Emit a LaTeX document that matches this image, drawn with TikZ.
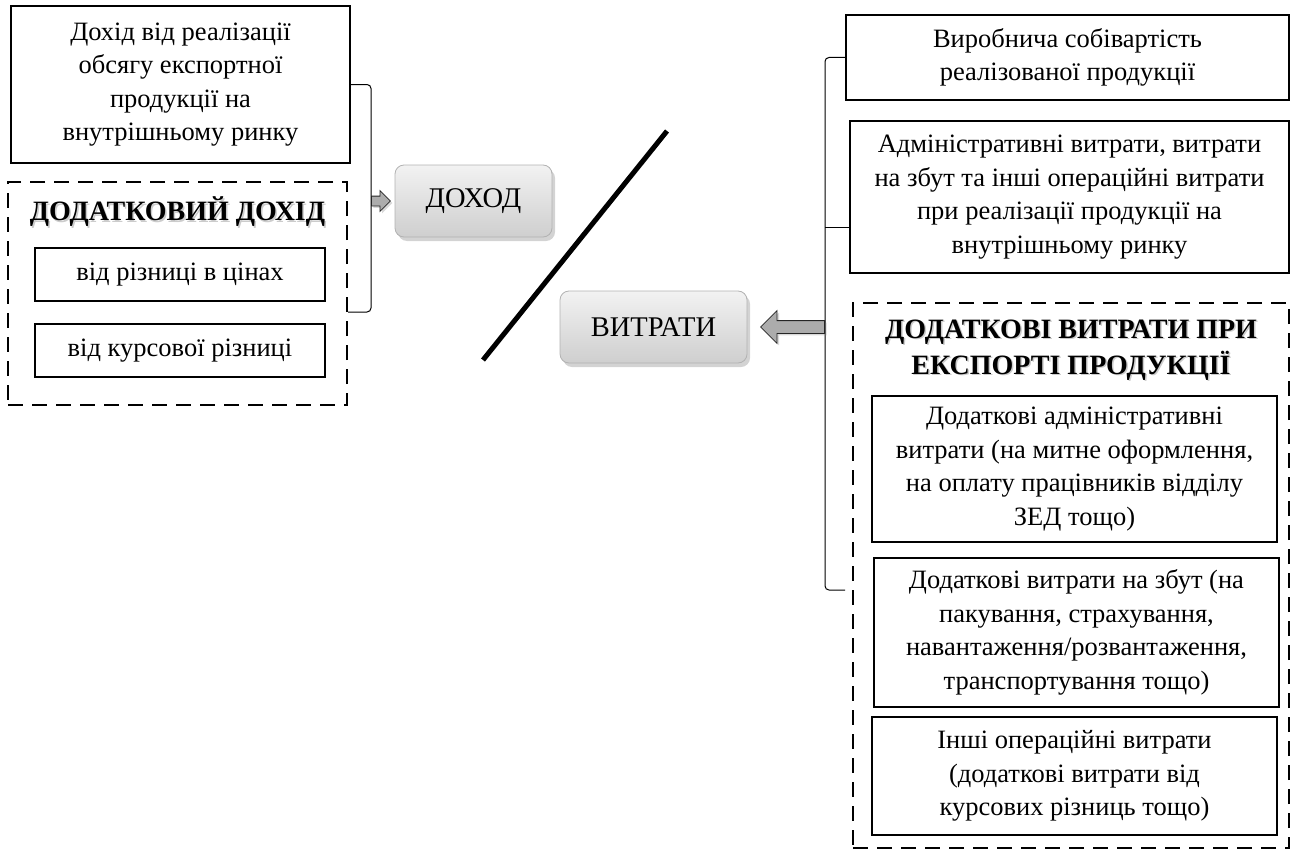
\documentclass[tikz,border=0pt]{standalone}
\usepackage{fontspec}
\setmainfont{Liberation Serif}
\usetikzlibrary{shapes.arrows,shadows}

\begin{document}
\begin{tikzpicture}[x=1pt,y=-1pt,
  every node/.style={inner sep=0pt, font=\fontsize{26.5}{33.5}\selectfont, align=center},
  plainbox/.style={draw, line width=2pt},
  dashbox/.style={draw, line width=2.2pt, dash pattern=on 15pt off 9pt},
  greybox/.style={draw=gray!60, line width=0.8pt, rounded corners=9pt, top color=gray!10, bottom color=gray!38,
    font=\fontsize{28.5}{34}\selectfont, drop shadow={opacity=0.35, shadow xshift=3pt, shadow yshift=-4pt}},
  heading/.style={font=\fontsize{28}{36}\selectfont\bfseries},
  blockarr/.style={single arrow, draw=black!85, line width=0.8pt, fill=gray!65, inner xsep=0pt,
    drop shadow={opacity=0.3, shadow xshift=2pt, shadow yshift=-2pt}},
  brk/.style={line width=1pt, rounded corners=4pt}]
\useasboundingbox (0,0) rectangle (1295,851);
% left part
\node [plainbox, minimum width=339pt, minimum height=157pt] (inc) at (180.5,84.5)
  {Дохід від реалізації\\обсягу експортної\\продукції на\\внутрішньому ринку};
\node [dashbox, minimum width=339pt, minimum height=223pt] (addinc) at (177.5,293.5) {};
\node [heading, text=gray!40] at (179,213.5) {ДОДАТКОВИЙ ДОХІД};
\node [heading] (addinct) at (177.5,212) {ДОДАТКОВИЙ ДОХІД};
\node [plainbox, minimum width=290pt, minimum height=53pt] (inc1) at (180,274.5) {від різниці в цінах};
\node [plainbox, minimum width=290pt, minimum height=53pt] (inc2) at (180,350.5) {від курсової різниці};
\node [greybox, minimum width=157pt, minimum height=72pt] (dohod) at (473.5,201) {ДОХОД};
\coordinate (lbrB) at (371,312);
\draw [brk] (inc.east) -| (lbrB) -- (addinc.east |- lbrB);
\node [blockarr, minimum height=19pt, minimum width=20pt, inner ysep=4.5pt, single arrow head extend=5.5pt,
  anchor=tail] (arrL) at (lbrB |- dohod) {};
% divider
\draw [line width=5pt] (483,360) -- (667,131);
% right part
\node [greybox, minimum width=187pt, minimum height=72pt] (vitr) at (653.5,327) {ВИТРАТИ};
\node [plainbox, minimum width=443pt, minimum height=85pt] (rc1) at (1067.5,57.5)
  {Виробнича собівартість\\реалізованої продукції};
\node [plainbox, minimum width=439pt, minimum height=152pt] (rc2) at (1069.5,197)
  {Адміністративні витрати, витрати\\на збут та інші операційні витрати\\при реалізації продукції на\\внутрішньому ринку};
\node [dashbox, minimum width=436pt, minimum height=545pt] (addexp) at (1071,575.5) {};
\node [heading, text=gray!40] at (1072.5,351.5) {ДОДАТКОВІ ВИТРАТИ ПРИ\\ЕКСПОРТІ ПРОДУКЦІЇ};
\node [heading] (addexpt) at (1071,350) {ДОДАТКОВІ ВИТРАТИ ПРИ\\ЕКСПОРТІ ПРОДУКЦІЇ};
\node [plainbox, minimum width=405pt, minimum height=146pt] (rc3) at (1074.5,469)
  {Додаткові адміністративні\\витрати (на митне оформлення,\\на оплату працівників відділу\\ЗЕД тощо)};
\node [plainbox, minimum width=405pt, minimum height=149pt] (rc4) at (1076.5,632.5)
  {Додаткові витрати на збут (на\\пакування, страхування,\\навантаження/розвантаження,\\транспортування тощо)};
\node [plainbox, minimum width=405pt, minimum height=118pt] (rc5) at (1074.5,776)
  {Інші операційні витрати\\(додаткові витрати від\\курсових різниць тощо)};
\coordinate (rbrB) at (825,590);
\coordinate (rbrM) at (825,227);
\draw [brk] (rc1.west) -| (rbrB) -- ++(20,0);
\draw [brk] (rbrM) -- (rc2.west |- rbrM);
\node [blockarr, minimum height=64pt, minimum width=32pt, inner ysep=6pt, single arrow head extend=10pt,
  shape border rotate=180, anchor=tail] (arrR) at (rbrB |- vitr) {};
\end{tikzpicture}
\end{document}
